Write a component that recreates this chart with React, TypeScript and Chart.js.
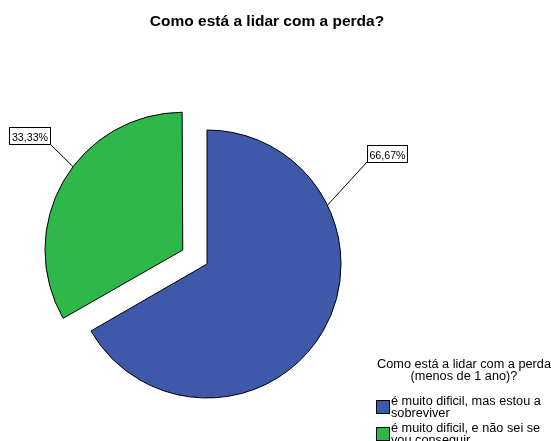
import React, { useEffect, useRef } from "react";
import { Chart, registerables } from "chart.js";

Chart.register(...registerables);

const chartTitle = "Como está a lidar com a perda?";
const legendTitle = ["Como está a lidar com a perda", "(menos de 1 ano)?"];
const categories = [
  ["é muito dificil, mas estou a", "sobreviver"],
  ["é muito dificil, e não sei se", "vou conseguir"],
];
const values = [66.67, 33.33];
const percentLabels = ["66,67%", "33,33%"];
const sliceColors = ["#3e58aa", "#2eb84a"];
const sliceOffsets = [0, 112];

const FONT = '"Liberation Sans", Arial, sans-serif';

function drawText(
  ctx: CanvasRenderingContext2D,
  text: string,
  x: number,
  y: number,
  font: string,
  align: CanvasTextAlign,
  sx: number
) {
  ctx.save();
  ctx.font = font;
  ctx.textAlign = align;
  ctx.textBaseline = "alphabetic";
  ctx.fillStyle = "#000";
  ctx.translate(x, y);
  ctx.scale(sx, 1);
  ctx.fillText(text, 0, 0);
  ctx.restore();
}

const decorPlugin = {
  id: "decor",
  afterDraw(chart: any) {
    const ctx: CanvasRenderingContext2D = chart.ctx;
    // Title
    drawText(ctx, chartTitle, 267, 26, `bold 15.5px ${FONT}`, "center", 1);

    // Percent labels with leader lines
    const meta = chart.getDatasetMeta(0);
    const anchorAngles = [(-26 * Math.PI) / 180, (-142.8 * Math.PI) / 180];
    const boxes = [
      { x: 367, y: 145, w: 40, h: 17, corner: "left" },
      { x: 9, y: 127, w: 41, h: 17, corner: "right" },
    ];
    meta.data.forEach((arc: any, i: number) => {
      const p = arc.getProps(["x", "y", "startAngle", "endAngle", "outerRadius", "circumference"], true);
      const off = (sliceOffsets[i] || 0) / 4;
      const half = (p.startAngle + p.endAngle) / 2;
      const fix = 1 - Math.sin(Math.min(Math.PI, p.circumference || 0));
      const cx = p.x + Math.cos(half) * off;
      const cy = p.y + Math.sin(half) * off;
      const r = p.outerRadius + off * fix;
      const ax = cx + Math.cos(anchorAngles[i]) * r;
      const ay = cy + Math.sin(anchorAngles[i]) * r;
      const b = boxes[i];
      const bx = b.corner === "left" ? b.x : b.x + b.w;
      const by = b.y + b.h;
      ctx.save();
      ctx.strokeStyle = "#000";
      ctx.lineWidth = 1;
      ctx.beginPath();
      ctx.moveTo(bx, by);
      ctx.lineTo(ax, ay);
      ctx.stroke();
      ctx.fillStyle = "#fff";
      ctx.fillRect(b.x + 0.5, b.y + 0.5, b.w, b.h);
      ctx.strokeRect(b.x + 0.5, b.y + 0.5, b.w, b.h);
      ctx.restore();
      drawText(ctx, percentLabels[i], b.x + b.w / 2 + 0.5, b.y + 13.5, `11px ${FONT}`, "center", 0.97);
    });

    // Legend
    const lf = `12px ${FONT}`;
    const sx = 1.06;
    drawText(ctx, legendTitle[0], 464, 368, lf, "center", sx);
    drawText(ctx, legendTitle[1], 464, 380, lf, "center", sx);
    const itemTops = [400, 427];
    categories.forEach((lines, i) => {
      const top = itemTops[i];
      ctx.save();
      ctx.fillStyle = sliceColors[i];
      ctx.strokeStyle = "#000";
      ctx.lineWidth = 1;
      ctx.fillRect(376.5, top + 0.5, 13, 13);
      ctx.strokeRect(376.5, top + 0.5, 13, 13);
      ctx.restore();
      lines.forEach((ln, j) => {
        drawText(ctx, ln, 391, top + 5 + j * 12, lf, "left", sx);
      });
    });
  },
};

export default function App() {
  const ref = useRef<HTMLCanvasElement | null>(null);
  useEffect(() => {
    if (!ref.current) return;
    const chart = new Chart(ref.current, {
      type: "pie",
      data: {
        labels: categories.map((c) => c.join(" ")),
        datasets: [
          {
            data: values,
            backgroundColor: sliceColors,
            borderColor: "#000",
            borderWidth: 1,
            offset: sliceOffsets,
            clip: false,
          } as any,
        ],
      },
      options: {
        animation: false,
        responsive: false,
        rotation: 0,
        radius: 134,
        layout: { padding: { left: 0, right: 137, top: 87, bottom: 0 } },
        plugins: {
          legend: { display: false },
          title: { display: false },
          tooltip: { enabled: false },
        },
      } as any,
      plugins: [decorPlugin],
    });
    return () => chart.destroy();
  }, []);
  return (
    <div style={{ position: "absolute", left: 0, top: 0, width: 551, height: 441, background: "#fff" }}>
      <canvas ref={ref} width={551} height={441} style={{ width: 551, height: 441 }} />
    </div>
  );
}
